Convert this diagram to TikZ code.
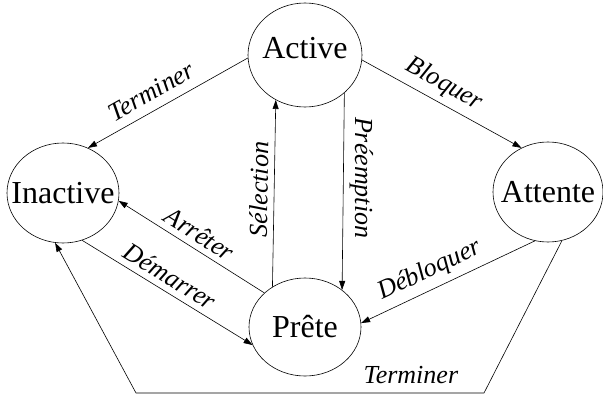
\documentclass[tikz,border=0pt]{standalone}
\usepackage{fontspec}
\setmainfont{Liberation Serif}[ItalicFont={Liberation Serif Italic}]
\usetikzlibrary{shapes.geometric,arrows.meta}
\begin{document}
\begin{tikzpicture}[x=1pt,y=-1pt,
  state/.style={ellipse,draw,line width=0.6pt,minimum width=112pt,minimum height=100pt,inner sep=0pt},
  statetext/.style={font=\fontsize{32}{36}\selectfont,inner sep=0pt},
  lbl/.style={font=\fontsize{26}{30}\selectfont\itshape,inner sep=6pt},
  arr/.style={line width=0.6pt,-{Triangle[length=9pt,width=6pt]}}
]
\useasboundingbox (0,0) rectangle (603,394);
\node[state,minimum width=114pt,minimum height=104pt,label={[statetext,yshift=7pt]center:Active}] (act) at (305,55) {};
\node[state,label={[statetext]center:Inactive}] (ina) at (63,193) {};
\node[state,minimum width=110pt,label={[statetext]center:Attente}] (att) at (548,192) {};
\node[state,minimum height=98pt,label={[statetext]center:Prête}] (pre) at (305,327) {};
\coordinate (c1) at (484,393);
\coordinate (c2) at (136,393);
\draw[arr] (act.183) -- node[lbl,sloped,above,pos=0.55,inner sep=9pt] {Terminer} (ina.61);
\draw[arr] (act.-5) -- node[lbl,sloped,above,pos=0.46] {Bloquer} (att.121);
\draw[arr] (pre.129) -- node[lbl,sloped,above,pos=0.52] {Sélection} (act.237);
\draw[arr] (act.-44) -- node[lbl,rotate=-90,anchor=south,pos=0.43] {Préemption} (pre.45);
\draw[arr] (pre.140) -- node[lbl,sloped,above,pos=0.5] {Arrêter} (ina.-8);
\draw[arr] (ina.-68) -- node[lbl,sloped,above,pos=0.47] {Démarrer} (pre.199);
\draw[arr] (att.255) -- node[lbl,sloped,above,pos=0.56] {Débloquer} (pre.4);
\draw[arr] (att.-74) -- (c1) -- node[lbl,above,pos=0.21,inner sep=9pt] {Terminer} (c2) -- (ina.261);
\end{tikzpicture}
\end{document}
